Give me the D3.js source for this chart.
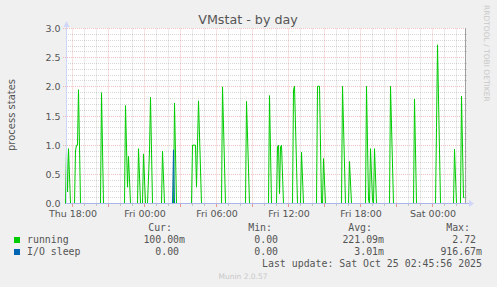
<!DOCTYPE html>
<html>
<head>
<meta charset="utf-8">
<title>VMstat - by day</title>
<script src="https://cdn.jsdelivr.net/npm/d3@7/dist/d3.min.js"></script>
<style>
body { margin: 0; background: #f0f0f0; }
svg { display: block; font-family: "DejaVu Sans", sans-serif; }
.mono { font-family: "DejaVu Sans Mono", monospace; font-size: 9.9px; fill: #555; white-space: pre; }
</style>
</head>
<body>
<script>
var width = 497, height = 287;

// sample index = 5 minute steps starting Thu 23 Oct 2025 17:25
var startTime = new Date(2025, 9, 23, 17, 25);
var samples = 400;

var running = [[0,0],[1,0.9],[2,0.2],[3,0.94],[5,0],[9,0],[10,0.9],[11,1.0],[12,1.0],[13,1.95],[15,0],
  [35,0],[36,1.9],[38,0],[59,0],[60,1.68],[62,0.28],[63,0.81],[65,0],[72,0],[73,0.94],[75,0],
  [77,0],[78,0.85],[80,0],[82,0],[84,0.9],[85,1.82],[87,0],[96,0],[97,0.9],[99,0],
  [108,0],[109,1.72],[111,0],[126,0],[127,1.0],[130,1.0],[131,0.28],[133,1.76],[136,0],
  [156,0],[157,2.0],[160,0],[180,0],[181,1.75],[184,0],[203,0],[204,1.85],[206,0],
  [211,0],[212,0.97],[213,1.0],[214,0.17],[215,0.97],[216,1.0],[218,0],[227,0],[228,1.95],[229,2.01],[232,0],
  [235,0],[236,0.88],[238,0],[251,0],[252,2.01],[254,2.01],[256,0],[257,0],[258,0.77],[260,0],
  [276,0],[277,2.01],[280,0],[283,0],[284,0.72],[286,0],[300,0],[301,2.01],[303,0.05],[304,0],
  [305,0.94],[307,0.05],[308,0],[309,0.94],[311,0],[324,0],[325,2.01],[328,0],[348,0],[349,1.79],[351,0],
  [370,0],[371,1.3],[372,2.72],[375,0],[388,0],[389,0.93],[391,0],[395,0],[396,1.84],[398,0.1],[399,0.1]];
var ioSleep = [[0,0],[107,0],[108,0.92],[109,0],[399,0]];

var seriesNames = ["running", "I/O sleep"];
var seriesColors = ["#00cc00", "#0066b3"];
var statHeaders = ["Cur:", "Min:", "Avg:", "Max:"];
var statRows = [["100.00m", "0.00 ", "221.09m", "2.72 "],
                ["0.00 ", "0.00 ", "3.01m", "916.67m"]];
var yTicks = [0, 0.5, 1.0, 1.5, 2.0, 2.5, 3.0];
var yMinor = d3.range(0, 31).map(function(d) { return d / 10; });

var x = d3.scaleTime()
  .domain([startTime, new Date(startTime.getTime() + samples * 300000)])
  .range([65.5, 465.5]);
var y = d3.scaleLinear().domain([0, 3]).range([203.5, 28.5]);
function slotTime(i) { return new Date(startTime.getTime() + i * 300000); }
function snap(v) { return Math.round(v - 0.5) + 0.5; }

var svg = d3.select("body").append("svg").attr("width", width).attr("height", height);

svg.append("rect").attr("x", 66).attr("y", 28).attr("width", 400).attr("height", 175.5).attr("fill", "#fff");

// grid
var hours = d3.timeHour.every(1).range(x.domain()[0], x.domain()[1]);
var minorColor = "rgba(150,150,150,0.38)", majorColor = "rgba(225,120,120,0.45)";
var grid = svg.append("g").attr("fill", "none").attr("stroke-dasharray", "1,1");
grid.selectAll(".hmin").data(yMinor.filter(function(v) { return Math.round(v * 10) % 5 != 0; }))
  .enter().append("line")
  .attr("x1", 66).attr("x2", 467).attr("y1", function(d) { return snap(y(d)); }).attr("y2", function(d) { return snap(y(d)); })
  .attr("stroke", minorColor);
grid.selectAll(".vmin").data(hours.filter(function(d) { return d.getHours() % 3 != 0; }))
  .enter().append("line")
  .attr("y1", 28.5).attr("y2", 203).attr("x1", function(d) { return snap(x(d)); }).attr("x2", function(d) { return snap(x(d)); })
  .attr("stroke", minorColor);
grid.selectAll(".hmaj").data(yTicks.slice(1))
  .enter().append("line")
  .attr("x1", 63).attr("x2", 467).attr("y1", function(d) { return snap(y(d)); }).attr("y2", function(d) { return snap(y(d)); })
  .attr("stroke", majorColor);
grid.selectAll(".vmaj").data(hours.filter(function(d) { return d.getHours() % 3 == 0; }))
  .enter().append("line")
  .attr("y1", 28.5).attr("y2", 203).attr("x1", function(d) { return snap(x(d)); }).attr("x2", function(d) { return snap(x(d)); })
  .attr("stroke", majorColor);

// ticks under the x axis
svg.selectAll(".tick3").data(hours).enter().append("line")
  .attr("x1", function(d) { return snap(x(d)); }).attr("x2", function(d) { return snap(x(d)); })
  .attr("y1", 204).attr("y2", function(d) { return d.getHours() % 3 == 0 ? 207 : 206; })
  .attr("stroke", function(d) { return d.getHours() % 3 == 0 ? "rgba(225,110,110,0.7)" : "rgba(150,150,150,0.5)"; });

// series
var line = d3.line().x(function(d) { return x(slotTime(d[0])); }).y(function(d) { return y(d[1]); });
[running, ioSleep].forEach(function(s, i) {
  svg.append("path").datum(s).attr("d", line).attr("fill", "none")
    .attr("stroke", seriesColors[i]).attr("stroke-width", 1);
});

// frame and axes
svg.append("line").attr("x1", 465.5).attr("x2", 465.5).attr("y1", 28).attr("y2", 203).attr("stroke", "#a0a0a0");
svg.append("line").attr("x1", 66).attr("x2", 470).attr("y1", 203.5).attr("y2", 203.5).attr("stroke", "#a9b6ec");
svg.append("line").attr("x1", 66.5).attr("x2", 66.5).attr("y1", 204).attr("y2", 25).attr("stroke", "#cfd6f8");
svg.append("path").attr("d", "M469,200 L474,203.5 L469,207 Z").attr("fill", "#cfd6f8");
svg.append("path").attr("d", "M63.5,27 L66.5,21 L69.5,27 Z").attr("fill", "#cfd6f8");

var xAxis = svg.append("g").attr("transform", "translate(0,203.5)")
  .call(d3.axisBottom(x).tickValues(d3.timeHour.every(6).range(x.domain()[0], x.domain()[1]))
    .tickSize(0).tickPadding(6.3).tickFormat(d3.timeFormat("%a %H:%M")));
xAxis.select(".domain").remove();
xAxis.selectAll("text").attr("font-size", "9.5px").attr("fill", "#555").attr("font-family", "DejaVu Sans");

var yAxis = svg.append("g").attr("transform", "translate(66,0)")
  .call(d3.axisLeft(y).tickValues(yTicks).tickSize(0).tickPadding(5.5).tickFormat(d3.format(".1f")));
yAxis.select(".domain").remove();
yAxis.selectAll("text").attr("font-size", "9.5px").attr("fill", "#555").attr("font-family", "DejaVu Sans");

// titles
svg.append("text").attr("x", 248).attr("y", 24).attr("text-anchor", "middle")
  .attr("font-size", "12.7px").attr("fill", "#555").text("VMstat - by day");
svg.append("text").attr("transform", "translate(15,115) rotate(-90)").attr("text-anchor", "middle")
  .attr("font-size", "10px").attr("fill", "#555").text("process states");
svg.append("text").attr("transform", "translate(484,5) rotate(90)")
  .attr("font-size", "7.5px").attr("fill", "#c8c8c8").text("RRDTOOL / TOBI OETIKER");

// legend
var colRight = [185, 284, 384, 482];
var headRight = [172, 272, 372, 470];
svg.selectAll(".head").data(statHeaders).enter().append("text").attr("class", "mono")
  .attr("x", function(d, i) { return headRight[i]; }).attr("y", 230.5).attr("text-anchor", "end").text(function(d) { return d; });
seriesNames.forEach(function(name, r) {
  var yy = 242.5 + r * 12;
  svg.append("rect").attr("x", 14).attr("y", yy - 5.5).attr("width", 6).attr("height", 6).attr("fill", seriesColors[r]);
  svg.append("text").attr("class", "mono").attr("x", 27).attr("y", yy).text(name);
  svg.selectAll(".v" + r).data(statRows[r]).enter().append("text").attr("class", "mono")
    .attr("x", function(d, i) { return colRight[i]; }).attr("y", yy).attr("text-anchor", "end").text(function(d) { return d; });
});
svg.append("text").attr("class", "mono").attr("x", 482).attr("y", 266.5).attr("text-anchor", "end")
  .text("Last update: Sat Oct 25 02:45:56 2025");
svg.append("text").attr("x", 243).attr("y", 279).attr("text-anchor", "middle")
  .attr("font-size", "7.5px").attr("fill", "#c8c8c8").text("Munin 2.0.57");
</script>
</body>
</html>
